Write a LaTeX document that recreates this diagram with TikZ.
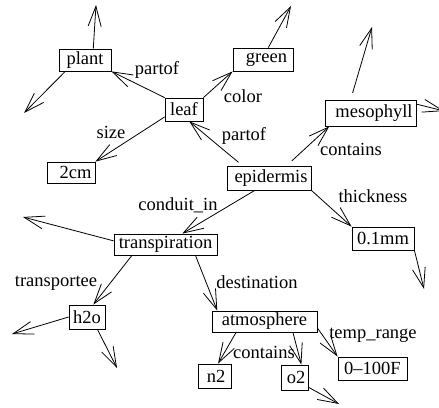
\documentclass[tikz,border=0pt]{standalone}
\usepackage{fontspec}
\setmainfont{Liberation Serif}
\usetikzlibrary{arrows.meta}

\begin{document}
\begin{tikzpicture}[x=1pt, y=-1pt,
  box/.style={draw, line width=0.8pt, inner sep=1pt, font=\fontsize{18.5}{20}\selectfont},
  elabel/.style={inner sep=0pt, font=\fontsize{18.5}{20}\selectfont},
  edge/.style={line width=0.8pt, -{Straight Barb[length=20pt, width=13pt, line width=0.8pt]}}]
\useasboundingbox (0,0) rectangle (439,407);

% concept boxes
\node[box, minimum width=52pt, minimum height=22pt] (plant) at (85,60) {plant};
\node[box, minimum width=38pt, minimum height=23pt] (leaf) at (184,109.5) {leaf};
\node[box, minimum width=48pt, minimum height=21pt] (cm) at (71,172.5) {\hspace*{9pt}2cm};
\node[box, minimum width=60pt, minimum height=23pt] (green) at (263,59.5) {\hspace*{7pt}green};
\node[box, minimum width=91pt, minimum height=26pt] (meso) at (370.5,113) {\hspace*{7pt}mesophyll};
\node[box, minimum width=84pt, minimum height=24pt] (epi) at (269,178) {\hspace*{4pt}epidermis};
\node[box, minimum width=62pt, minimum height=23pt] (mm) at (383,238.5) {0.1mm};
\node[box, minimum width=103pt, minimum height=21pt] (trans) at (165.5,244.5) {transpiration};
\node[box, minimum width=36pt, minimum height=24pt] (h2o) at (87,317) {h2o};
\node[box, minimum width=105pt, minimum height=21pt] (atm) at (264.5,321.5) {atmosphere};
\node[box, minimum width=33pt, minimum height=24pt] (n2) at (214.5,376) {\hspace*{3pt}n2};
\node[box, minimum width=27pt, minimum height=25pt] (o2) at (294.5,377.5) {\hspace*{3pt}o2};
\node[box, minimum width=69pt, minimum height=23pt] (temp) at (372.5,368.5) {0--100F};

% loose arrow ends
\coordinate (pu) at (96,5);
\coordinate (pl) at (24,113);
\coordinate (gu) at (291,6);
\coordinate (mu) at (372,27);
\coordinate (mr) at (444,111);
\coordinate (md) at (424,289);
\coordinate (tl) at (23,217);
\coordinate (hl) at (12,334);
\coordinate (hd) at (117,368);
\coordinate (od) at (339,404);

% relations
\draw[edge] (plant.54) -- (pu);
\draw[edge] (plant.210) -- (pl);
\draw[edge] (leaf.north west) -- (plant.south east);
\draw[edge] (leaf.201) -- (cm.north east);
\draw[edge] (leaf.north east) -- (green.south west);
\draw[edge] (green.66) -- (gu);
\draw[edge, shorten <=5pt] (epi.155) -- (leaf.-66);
\draw[edge, shorten <=7pt] (meso.146) -- (mu);
\draw[edge] (meso.11) -- (mr);
\draw[edge, shorten <=7pt] (epi.35) -- (meso.198);
\draw[edge] (epi.south east) -- (mm.north west);
\draw[edge] (mm.south east) -- (md);
\draw[edge] (epi.221) -- (trans.33);
\draw[edge] (trans.176) -- (tl);
\draw[edge] (trans.198) -- (h2o.63);
\draw[edge] (trans.-20) -- (atm.167);
\draw[edge] (h2o.west) -- (hl);
\draw[edge] (h2o.-50) -- (hd);
\draw[edge] (atm.201.6) -- (n2.74);
\draw[edge] (atm.-21.6) -- (o2.62);
\draw[edge] (atm.-7) -- (temp.north west);
\draw[edge] (o2.-35) -- (od);

% relation labels
\node[elabel] (l-partof1) at (157,70) {partof};
\node[elabel] (l-size) at (111,132) {size};
\node[elabel] (l-color) at (243,96) {color};
\node[elabel] (l-partof2) at (244,136) {partof};
\node[elabel] (l-contains1) at (351,149) {contains};
\node[elabel] (l-thick) at (373,196) {thickness};
\node[elabel] (l-conduit) at (178,205) {conduit\_in};
\node[elabel] (l-transp) at (56,283) {transportee};
\node[elabel] (l-dest) at (257,282) {destination};
\node[elabel] (l-contains2) at (264,352) {contains};
\node[elabel] (l-temp) at (373,335) {temp\_range};
\end{tikzpicture}
\end{document}
